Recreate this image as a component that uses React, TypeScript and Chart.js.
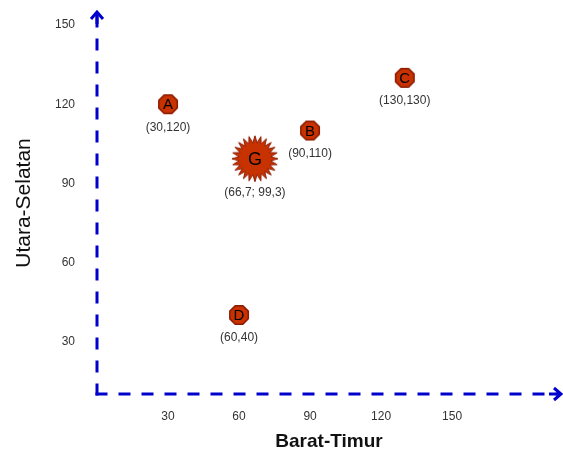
import React, { useEffect, useRef } from "react";
import { Chart, registerables } from "chart.js";

Chart.register(...registerables);

const pointLetters = ["A", "B", "C", "D", "G"];
const xValues = [30, 90, 130, 60, 66.7];
const yValues = [120, 110, 130, 40, 99.3];
const coordLabels = ["(30,120)", "(90,110)", "(130,130)", "(60,40)", "(66,7; 99,3)"];
const xTickValues = [30, 60, 90, 120, 150];
const yTickValues = [30, 60, 90, 120, 150];
const xTitle = "Barat-Timur";
const yTitle = "Utara-Selatan";

const FONT = "'Liberation Sans', Arial, sans-serif";
const FILL = "#C83200";
const STROKE = "#8B1A00";
const AXIS = "#0000CC";

function makeOctagon(): HTMLCanvasElement {
  const size = 22;
  const c = document.createElement("canvas");
  c.width = size;
  c.height = size;
  const g = c.getContext("2d")!;
  const r = 10;
  g.beginPath();
  for (let i = 0; i < 8; i++) {
    const a = Math.PI / 8 + (i * Math.PI) / 4;
    const px = size / 2 + r * Math.cos(a);
    const py = size / 2 + r * Math.sin(a);
    if (i === 0) g.moveTo(px, py);
    else g.lineTo(px, py);
  }
  g.closePath();
  g.fillStyle = FILL;
  g.fill();
  g.strokeStyle = STROKE;
  g.lineWidth = 1.5;
  g.stroke();
  return c;
}

function makeSun(): HTMLCanvasElement {
  const size = 50;
  const c = document.createElement("canvas");
  c.width = size;
  c.height = size;
  const g = c.getContext("2d")!;
  const spikes = 24;
  const rOut = 23;
  const rIn = 16;
  g.beginPath();
  for (let i = 0; i < spikes * 2; i++) {
    const a = -Math.PI / 2 + (i * Math.PI) / spikes;
    const r = i % 2 === 0 ? rOut : rIn;
    const px = size / 2 + r * Math.cos(a);
    const py = size / 2 + r * Math.sin(a);
    if (i === 0) g.moveTo(px, py);
    else g.lineTo(px, py);
  }
  g.closePath();
  g.fillStyle = FILL;
  g.fill();
  g.strokeStyle = STROKE;
  g.lineWidth = 1;
  g.stroke();
  return c;
}

const axisArrows = {
  id: "axisArrows",
  beforeDatasetsDraw(chart: any) {
    const { ctx, chartArea } = chart;
    const { left, right, top, bottom } = chartArea;
    ctx.save();
    ctx.strokeStyle = AXIS;
    ctx.lineWidth = 3;
    ctx.lineCap = "butt";
    ctx.setLineDash([12, 11]);
    ctx.beginPath();
    ctx.moveTo(left, bottom + 1.5);
    ctx.lineTo(left, top);
    ctx.stroke();
    ctx.beginPath();
    ctx.moveTo(left - 1.5, bottom);
    ctx.lineTo(right, bottom);
    ctx.stroke();
    ctx.setLineDash([]);
    ctx.lineJoin = "miter";
    ctx.beginPath();
    ctx.moveTo(left - 6, top + 7);
    ctx.lineTo(left, top);
    ctx.lineTo(left + 6, top + 7);
    ctx.stroke();
    ctx.beginPath();
    ctx.moveTo(right - 7, bottom - 6);
    ctx.lineTo(right, bottom);
    ctx.lineTo(right - 7, bottom + 6);
    ctx.stroke();
    ctx.beginPath();
    ctx.moveTo(left, top + 1);
    ctx.lineTo(left, top + 12);
    ctx.stroke();
    ctx.beginPath();
    ctx.moveTo(right - 1, bottom);
    ctx.lineTo(right - 12, bottom);
    ctx.stroke();
    ctx.restore();
  },
};

const pointText = {
  id: "pointText",
  afterDatasetsDraw(chart: any) {
    const { ctx } = chart;
    const meta = chart.getDatasetMeta(0);
    ctx.save();
    ctx.textAlign = "center";
    ctx.textBaseline = "middle";
    meta.data.forEach((el: any, i: number) => {
      const big = pointLetters[i] === "G";
      ctx.fillStyle = "#000";
      ctx.font = `${big ? 18 : 15}px ${FONT}`;
      ctx.fillText(pointLetters[i], el.x, el.y + 1);
      ctx.fillStyle = "#333";
      ctx.font = `12px ${FONT}`;
      ctx.fillText(coordLabels[i], el.x, el.y + (big ? 34 : 23));
    });
    ctx.restore();
  },
};

function zeroPadding(s: any) {
  s.paddingTop = 0;
  s.paddingBottom = 0;
  s.paddingLeft = 0;
  s.paddingRight = 0;
}

export default function App() {
  const ref = useRef<HTMLCanvasElement | null>(null);

  useEffect(() => {
    document.body.style.margin = "0";
    const oct = makeOctagon();
    const sun = makeSun();
    const styles = pointLetters.map((l) => (l === "G" ? sun : oct));
    const chart = new Chart(ref.current!, {
      type: "scatter",
      data: {
        datasets: [
          {
            data: xValues.map((x, i) => ({ x, y: yValues[i] })),
            pointStyle: styles as any,
            pointRadius: 1,
            pointHoverRadius: 0,
            pointBorderWidth: 0,
            backgroundColor: FILL,
            borderColor: STROKE,
          },
        ],
      },
      options: {
        responsive: false,
        animation: false,
        events: [],
        layout: { padding: { top: 12, right: 2, left: 0, bottom: 0 } },
        plugins: { legend: { display: false }, tooltip: { enabled: false } },
        scales: {
          x: {
            type: "linear",
            min: 0,
            max: 196,
            grid: { display: false, drawTicks: false },
            border: { display: false },
            afterBuildTicks: (s: any) => {
              s.ticks = xTickValues.map((v) => ({ value: v }));
            },
            afterFit: (s: any) => {
              s.height = 57;
              zeroPadding(s);
            },
            ticks: {
              padding: 15,
              autoSkip: false,
              maxRotation: 0,
              color: "#333",
              font: { size: 12, family: FONT },
            },
            title: {
              display: true,
              text: xTitle,
              color: "#111",
              font: { size: 19, weight: "bold", family: FONT, lineHeight: 1 },
              padding: { top: 0, bottom: 0 },
            },
          },
          y: {
            type: "linear",
            min: 10,
            max: 155,
            grid: { display: false, drawTicks: false },
            border: { display: false },
            afterBuildTicks: (s: any) => {
              s.ticks = yTickValues.map((v) => ({ value: v }));
            },
            afterFit: (s: any) => {
              s.width = 97;
              zeroPadding(s);
            },
            ticks: {
              padding: 22,
              autoSkip: false,
              color: "#333",
              font: { size: 12, family: FONT },
            },
            title: {
              display: true,
              text: yTitle,
              color: "#111",
              font: { size: 21, family: FONT, lineHeight: 1 },
              padding: { top: 14, bottom: 0 },
            },
          },
        },
      },
      plugins: [axisArrows, pointText],
    });
    return () => chart.destroy();
  }, []);

  return (
    <div style={{ width: 563, height: 451 }}>
      <canvas ref={ref} width={563} height={451} style={{ width: 563, height: 451, display: "block" }} />
    </div>
  );
}
